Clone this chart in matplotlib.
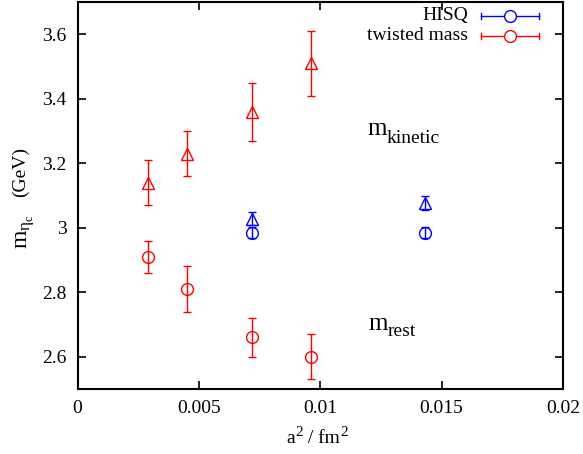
import matplotlib
matplotlib.use("Agg")
import matplotlib.pyplot as plt
from matplotlib.transforms import IdentityTransform

plt.rcParams['font.family'] = ['Liberation Serif', 'DejaVu Serif']

# twisted mass
tm_x = [0.0029, 0.0045, 0.0072, 0.0096]
tm_kin = [3.14, 3.23, 3.36, 3.51]
tm_kin_err = [0.07, 0.07, 0.09, 0.10]
tm_rest = [2.91, 2.81, 2.66, 2.60]
tm_rest_err = [0.05, 0.07, 0.06, 0.07]

# HISQ
hisq_x = [0.0072, 0.0143]
hisq_kin = [3.028, 3.078]
hisq_kin_err = [0.02, 0.022]
hisq_rest = [2.985, 2.985]
hisq_rest_err = [0.016, 0.016]

xticks = [0, 0.005, 0.01, 0.015, 0.02]
xticklabels = ['0', '0.005', '0.01', '0.015', '0.02']
yticks = [2.6, 2.8, 3.0, 3.2, 3.4, 3.6]
yticklabels = ['2.6', '2.8', '3', '3.2', '3.4', '3.6']

W, H = 583, 454
fig = plt.figure(figsize=(W / 100, H / 100), dpi=100)
x0a, x1a = 77.5, 563
y0a, y1a = 389, 2
ax = fig.add_axes([x0a / W, (H - y0a) / H, (x1a - x0a) / W, (y0a - y1a) / H])

red = '#ff0000'
blue = '#0000ff'
ms = 8.5
common = dict(linestyle='none', mfc='none', capsize=3, elinewidth=1, capthick=1, mew=1, markersize=ms)

ax.errorbar(tm_x, tm_kin, yerr=tm_kin_err, marker='^', color=red, **common)
ax.errorbar(tm_x, tm_rest, yerr=tm_rest_err, marker='o', color=red, **common)
ax.errorbar(hisq_x, hisq_kin, yerr=hisq_kin_err, marker='^', color=blue, **common)
ax.errorbar(hisq_x, hisq_rest, yerr=hisq_rest_err, marker='o', color=blue, **common)

ax.set_xlim(0, 0.02)
ax.set_ylim(2.5, 3.7)
ax.set_xticks(xticks)
ax.set_xticklabels(xticklabels)
ax.set_yticks(yticks)
ax.set_yticklabels(yticklabels)
ax.tick_params(direction='in', top=True, right=True, length=6, width=1.2, labelsize=14, pad=8)
for s in ax.spines.values():
    s.set_linewidth(1.5)

renderer = fig.canvas.get_renderer()
ID = IdentityTransform()


def rich(pieces, x, y, rotation=0):
    """pieces: (text, fontsize, shift_up_px, gap_before_px); x,y in top-left pixel coords"""
    if rotation == 0:
        pos = x
    else:
        pos = H - y
    for txt, fs, shift, gap in pieces:
        pos += gap
        if rotation == 0:
            t = fig.text(pos, H - y + shift, txt, fontsize=fs, ha='left', va='baseline', transform=ID)
            pos += t.get_window_extent(renderer).width
        else:
            t = fig.text(x - shift, pos, txt, fontsize=fs, rotation=90, rotation_mode='anchor',
                         ha='left', va='baseline', transform=ID)
            pos += t.get_window_extent(renderer).height


# annotation labels
rich([('m', 18, 0, 0), ('kinetic', 14, -8, 0)], 367, 135)
rich([('m', 18, 0, 0), ('rest', 14, -6.5, 0)], 368, 330)

# x label
rich([('a', 14, 0, 0), ('2', 11, 7, 0.5), (' / fm', 14, 0, 0), ('2', 11, 7, 0.5)], 286, 442.7)

# y label
rich([('m', 17, 0, 0), ('η', 12.5, -3, 0), ('c', 9, -6, 0)], 26.5, 248, rotation=90)
rich([('(GeV)', 14, 0, 0)], 25, 197, rotation=90)

# legend drawn manually (gnuplot style)
def ax_coords(px, py):
    return (px - x0a) / (x1a - x0a), (y0a - py) / (y0a - y1a)

for label, col, py in [('HISQ', blue, 15.5), ('twisted mass', red, 36)]:
    xl, y = ax_coords(481, py)
    xr, _ = ax_coords(539, py)
    xc, _ = ax_coords(510, py)
    xt, _ = ax_coords(468, py)
    ax.plot([xl, xr], [y, y], color=col, lw=1, transform=ax.transAxes, clip_on=False)
    capy = 3.0 / (y0a - y1a)
    for xx in (xl, xr):
        ax.plot([xx, xx], [y - capy, y + capy], color=col, lw=1, transform=ax.transAxes, clip_on=False)
    ax.plot([xc], [y], marker='o', mfc='white', mec=col, mew=1, markersize=ms, transform=ax.transAxes, clip_on=False)
    ax.text(xt, y, label, fontsize=14, ha='right', va='center', transform=ax.transAxes)

fig.savefig('out.png', dpi=100)
